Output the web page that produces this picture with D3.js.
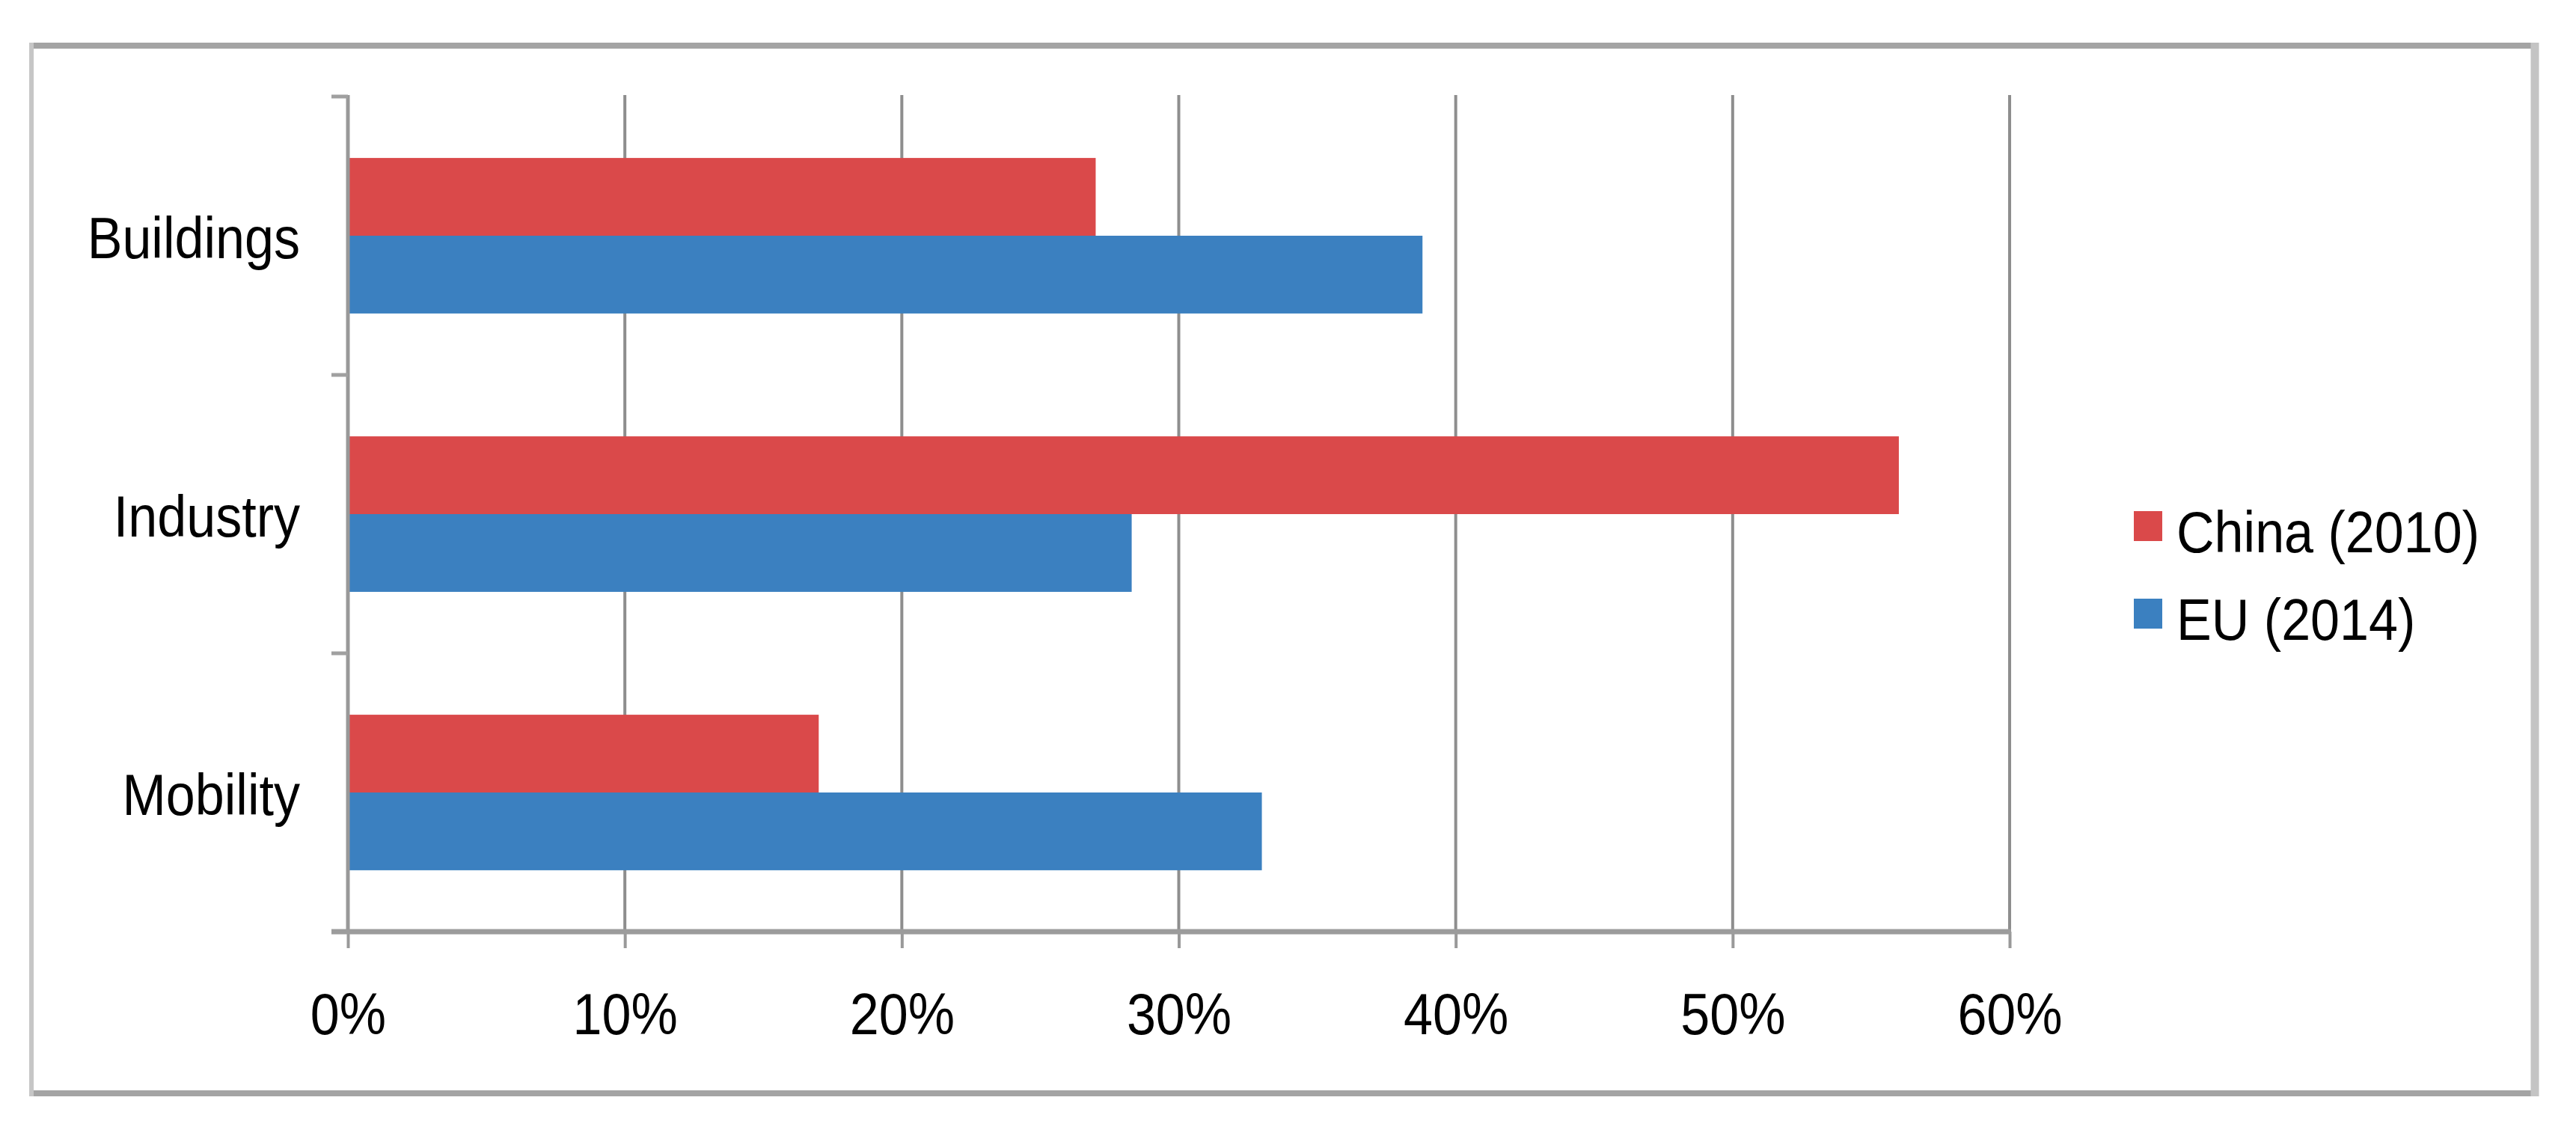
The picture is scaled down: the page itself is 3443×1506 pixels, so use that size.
<!DOCTYPE html>
<html>
<head>
<meta charset="utf-8">
<script src="https://cdn.jsdelivr.net/npm/d3@7"></script>
<style>
  html, body { margin: 0; padding: 0; background: #fff; }
  svg { display: block; }
  text { font-family: "Liberation Sans", Arial, Helvetica, sans-serif; fill: #000; }
</style>
</head>
<body>
<svg id="chart" width="3443" height="1506"></svg>
<script>
// ---- data ----
const categories = ["Buildings", "Industry", "Mobility"];
const seriesNames = ["China (2010)", "EU (2014)"];
const chinaValues = [27, 56, 17];
const euValues = [38.8, 28.3, 33];
const xTicks = [0, 10, 20, 30, 40, 50, 60];
const colors = ["#da494a", "#3b80c0"];

const seriesValues = [chinaValues, euValues];

const W = 3443, H = 1506;
const svg = d3.select("#chart");
svg.append("rect").attr("width", W).attr("height", H).attr("fill", "#fff");

// outer frame
const frame = svg.append("g");
frame.append("line").attr("x1", 40).attr("x2", 3392).attr("y1", 61).attr("y2", 61)
  .attr("stroke", "#a4a4a4").attr("stroke-width", 8);
frame.append("line").attr("x1", 40).attr("x2", 3392).attr("y1", 1461).attr("y2", 1461)
  .attr("stroke", "#a4a4a4").attr("stroke-width", 8);
frame.append("line").attr("x1", 42).attr("x2", 42).attr("y1", 57).attr("y2", 1465)
  .attr("stroke", "#c6c6c6").attr("stroke-width", 6);
frame.append("line").attr("x1", 3388).attr("x2", 3388).attr("y1", 57).attr("y2", 1465)
  .attr("stroke", "#c4c4c4").attr("stroke-width", 11);

// scales
const x = d3.scaleLinear().domain([0, 60]).range([465, 2686]);
const y = d3.scaleBand().domain(categories).range([129, 1245]).paddingInner(0).paddingOuter(0);
const ySub = d3.scaleBand().domain(seriesNames).range([0, y.bandwidth()]).paddingInner(0).paddingOuter(0.79);

const yTop = y.range()[0], yBottom = y.range()[1];
const SX = 0.91; // horizontal condensation of the text
const FS = 77;

// gridlines
svg.append("g").selectAll("line").data(xTicks.filter(d => d > 0)).join("line")
  .attr("x1", d => x(d)).attr("x2", d => x(d))
  .attr("y1", yTop - 2).attr("y2", yBottom)
  .attr("stroke", "#8e8e8e").attr("stroke-width", 4);

// bars
const barG = svg.append("g");
seriesNames.forEach((s, si) => {
  barG.append("g").selectAll("rect").data(categories).join("rect")
    .attr("x", x(0))
    .attr("y", c => y(c) + ySub(s))
    .attr("width", (c, i) => x(seriesValues[si][i]) - x(0))
    .attr("height", ySub.bandwidth())
    .attr("fill", colors[si]);
});

// y axis line and boundary ticks
svg.append("line").attr("x1", x(0)).attr("x2", x(0)).attr("y1", yTop - 2).attr("y2", yBottom)
  .attr("stroke", "#999").attr("stroke-width", 5);
const bounds = categories.map(c => y(c)).concat([yBottom]);
svg.append("g").selectAll("line").data(bounds).join("line")
  .attr("x1", x(0) - 22).attr("x2", x(0)).attr("y1", d => d).attr("y2", d => d)
  .attr("stroke", "#a0a0a0").attr("stroke-width", 5);

// category labels
svg.append("g").selectAll("text").data(categories).join("text")
  .attr("transform", c => `translate(${x(0) - 64},${y(c) + y.bandwidth() / 2 + 30}) scale(${SX},1)`)
  .attr("text-anchor", "end")
  .attr("font-size", FS)
  .text(c => c);

// x axis
const xAxis = d3.axisBottom(x).tickValues(xTicks).tickFormat(d => d + "%")
  .tickSize(22).tickSizeOuter(0).tickPadding(60);
const gx = svg.append("g").attr("transform", `translate(0,${yBottom})`).call(xAxis);
gx.select(".domain").remove();
gx.selectAll(".tick line").attr("stroke", "#999").attr("stroke-width", 4);
gx.selectAll(".tick text").attr("font-size", FS)
  .attr("font-family", '"Liberation Sans", Arial, Helvetica, sans-serif')
  .attr("fill", "#000").attr("transform", `scale(${SX},1)`);
svg.append("line").attr("x1", x(0) - 22).attr("x2", x(60) + 2).attr("y1", yBottom).attr("y2", yBottom)
  .attr("stroke", "#9c9c9c").attr("stroke-width", 7);

// legend
const legend = svg.append("g");
const legY = [683, 800];
seriesNames.forEach((s, i) => {
  legend.append("rect").attr("x", 2852).attr("y", legY[i]).attr("width", 38).attr("height", 40)
    .attr("fill", colors[i]);
  legend.append("text")
    .attr("transform", `translate(2909,${legY[i] + 55}) scale(${SX},1)`)
    .attr("font-size", FS)
    .text(s);
});
</script>
</body>
</html>
